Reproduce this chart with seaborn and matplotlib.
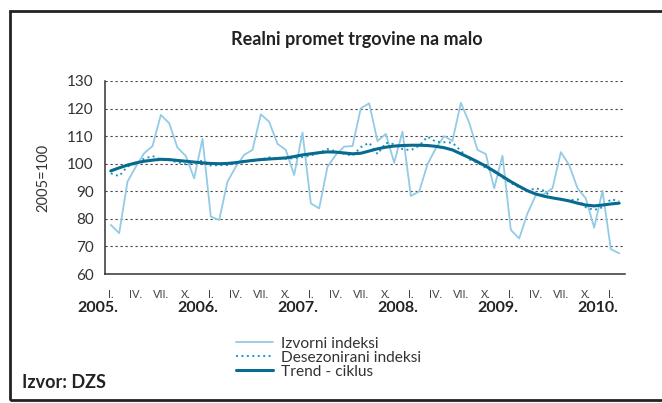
import numpy as np
import pandas as pd
import matplotlib
matplotlib.use("Agg")
import matplotlib.pyplot as plt
import seaborn as sns
from matplotlib.patches import Rectangle

# ---------------- data ----------------
months = list(range(62))  # Jan 2005 .. Feb 2010
quarter_labels = ["I.", "IV.", "VII.", "X."]
year_labels = ["2005.", "2006.", "2007.", "2008.", "2009.", "2010."]

izvorni = [
    77.8, 74.8, 93.5, 98.9, 103.8, 106.4, 117.7, 114.7, 105.8, 102.8, 94.7, 109.0,
    80.8, 79.6, 93.5, 98.9, 103.2, 105.0, 117.9, 115.2, 107.2, 105.0, 95.9, 111.3,
    85.6, 83.8, 98.9, 103.2, 106.2, 106.4, 120.1, 121.9, 108.2, 110.8, 100.4, 111.6,
    88.3, 89.9, 99.8, 105.6, 110.0, 108.3, 122.1, 114.9, 105.0, 103.5, 91.1, 102.9,
    76.0, 72.9, 82.0, 88.6, 89.0, 91.1, 104.2, 99.5, 91.1, 87.4, 76.8, 90.2,
    69.0, 67.5,
]
desezonirani = [
    96.5, 95.5, 99.0, 100.0, 101.8, 102.8, 101.5, 101.3, 100.5, 99.8, 100.4, 101.1,
    99.3, 99.5, 99.5, 100.2, 101.0, 101.0, 101.5, 102.3, 101.9, 101.8, 102.0, 102.4,
    103.0, 104.0, 105.3, 104.5, 103.6, 102.9, 106.0, 107.6, 103.5, 107.6, 107.1, 105.3,
    104.9, 106.5, 109.8, 108.0, 107.8, 107.6, 104.7, 101.6, 100.4, 98.5, 97.0, 95.0,
    93.0, 91.5, 90.2, 91.1, 90.2, 87.4, 87.0, 86.7, 87.1, 84.2, 83.2, 84.2,
    87.1, 86.5,
]
trend = [
    97.4, 98.5, 99.5, 100.3, 100.9, 101.3, 101.6, 101.5, 101.2, 100.9, 100.6, 100.3,
    100.1, 100.0, 100.1, 100.4, 100.8, 101.2, 101.5, 101.7, 101.9, 102.1, 102.6, 103.2,
    103.6, 104.0, 104.3, 104.2, 103.9, 103.6, 103.8, 104.6, 105.4, 106.0, 106.4, 106.6,
    106.7, 106.7, 106.6, 106.3, 105.8, 105.0, 103.6, 102.2, 100.7, 99.1, 97.3, 95.4,
    93.5, 91.8, 90.2, 89.0, 88.2, 87.6, 87.1, 86.5, 85.7, 85.0, 84.7, 85.0,
    85.4, 85.7,
]

df = pd.DataFrame({
    "m": months * 3,
    "v": izvorni + desezonirani + trend,
    "s": (["Izvorni indeksi"] * 62 + ["Desezonirani indeksi"] * 62
          + ["Trend - ciklus"] * 62),
})

# ---------------- style ----------------
sns.set_style("white")
plt.rcParams["font.family"] = ["Lato", "DejaVu Sans"]

c_izv = "#93cbe6"
c_des = "#1a97c4"
c_tre = "#086a8e"
txt = "#333333"

fig = plt.figure(figsize=(6.62, 4.03), dpi=100)
ax = fig.add_axes([105 / 662, 1 - 274 / 403, (625 - 105) / 662, (274 - 81) / 403])

sns.lineplot(data=df[df.s == "Izvorni indeksi"], x="m", y="v", color=c_izv,
             linewidth=1.3, ax=ax, label="Izvorni indeksi")
sns.lineplot(data=df[df.s == "Desezonirani indeksi"], x="m", y="v", color=c_des,
             linewidth=1.4, linestyle=(0, (1, 1.8)), ax=ax, label="Desezonirani indeksi")
sns.lineplot(data=df[df.s == "Trend - ciklus"], x="m", y="v", color=c_tre,
             linewidth=2.2, ax=ax, label="Trend - ciklus")

ax.set_xlim(-0.7, 61.7)
ax.set_ylim(60, 130)
ax.set_xlabel("")
ax.set_ylabel("2005=100", fontsize=10.5, color=txt, labelpad=12)

# y axis
ax.set_yticks(range(60, 131, 10))
ax.tick_params(axis="y", direction="out", length=5, width=1, color="#333333",
               labelsize=11, labelcolor=txt, pad=3)
for yv in range(70, 131, 10):
    ax.axhline(yv, color="#444444", linewidth=0.8, linestyle=(0, (2, 2.5)), zorder=0)

# x axis: month ticks, quarter labels
ax.set_xticks([k - 0.5 for k in range(63)], minor=True)
ax.set_xticks([k for k in range(0, 62, 3)])
ax.set_xticklabels([quarter_labels[(k // 3) % 4] for k in range(0, 62, 3)])
ax.tick_params(axis="x", which="major", length=0, labelsize=8, labelcolor="#444444", pad=11)
ax.tick_params(axis="x", which="minor", direction="out", length=4, width=0.9, color="#333333")

for i, yl in enumerate(year_labels):
    ax.text(i * 12 - 1.6, -0.175, yl, transform=ax.get_xaxis_transform(),
            ha="center", va="center", fontsize=11.5, fontweight="bold", color="#222222")

for s in ["top", "right"]:
    ax.spines[s].set_visible(False)
for s in ["left", "bottom"]:
    ax.spines[s].set_color("#333333")
    ax.spines[s].set_linewidth(1.1)

# legend
ax.legend(loc="upper left", bbox_to_anchor=(228 / 662, 1 - 329 / 403),
          bbox_transform=fig.transFigure, frameon=False, fontsize=11.2,
          handlelength=2.4, handletextpad=0.5, labelspacing=0.0, borderpad=0,
          labelcolor="#333333")

# title, source
fig.text(357 / 662, 1 - 39 / 403, "Realni promet trgovine na malo", ha="center",
         va="center", fontsize=13, fontweight="bold", color="#222222")
fig.text(22 / 662, 1 - 383 / 403, "Izvor: DZS", ha="left", va="center",
         fontsize=13, fontweight="bold", color="#222222")

# outer frame
fig.patches.append(Rectangle((10 / 662, 3 / 403), 2, 1 - 14 / 403, transform=fig.transFigure,
                             fill=False, edgecolor="#222222", linewidth=2))

fig.savefig("out.png", dpi=100)
